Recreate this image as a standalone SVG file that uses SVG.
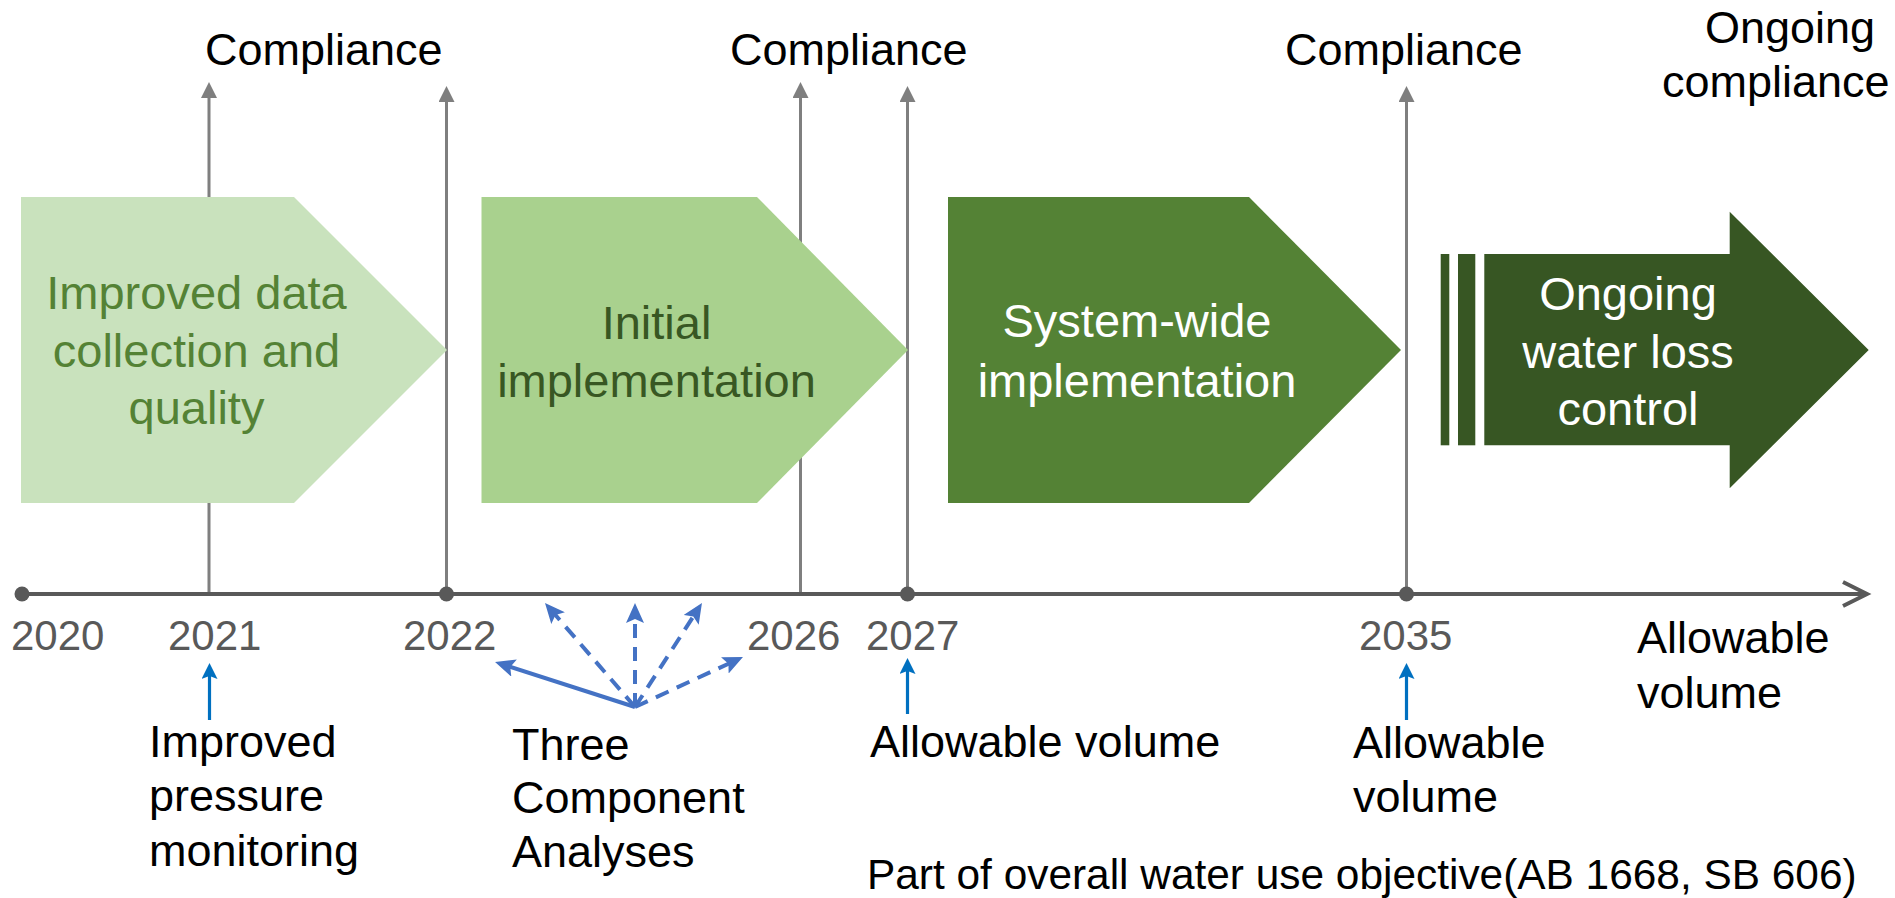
<svg xmlns="http://www.w3.org/2000/svg" width="1895" height="898" viewBox="0 0 1895 898">
<style>
text{font-family:"Liberation Sans",Arial,sans-serif}
.blk{font-size:45px;fill:#000}
.yr{font-size:42px;fill:#595959}
.bx{font-size:47px;text-anchor:middle}
.gl{stroke:#7F7F7F;stroke-width:3;fill:none}
.bl{stroke:#0070C0;stroke-width:3.2;fill:none}
.fan{stroke:#4472C4;stroke-width:4;fill:none}
.dash{stroke-dasharray:14 9}
</style>
<defs>
<marker id="ag" viewBox="0 0 16 16" refX="6" refY="8" markerWidth="16" markerHeight="16" markerUnits="userSpaceOnUse" orient="auto"><path d="M0,0 L16,8 L0,16 z" fill="#7F7F7F"/></marker>
<marker id="ab" viewBox="0 0 16 16" refX="6" refY="8" markerWidth="16" markerHeight="16" markerUnits="userSpaceOnUse" orient="auto"><path d="M0,0 L16,8 L0,16 L3,8 z" fill="#0070C0"/></marker>
<marker id="af" viewBox="0 0 20 18" refX="9" refY="9" markerWidth="20" markerHeight="18" markerUnits="userSpaceOnUse" orient="auto"><path d="M0,0 L20,9 L0,18 L4,9 z" fill="#4472C4"/></marker>
</defs>

<g id="connectors">
<line class="gl" x1="209" y1="594" x2="209" y2="92" marker-end="url(#ag)"/>
<line class="gl" x1="446.5" y1="594" x2="446.5" y2="96" marker-end="url(#ag)"/>
<line class="gl" x1="800.5" y1="594" x2="800.5" y2="92" marker-end="url(#ag)"/>
<line class="gl" x1="907.5" y1="594" x2="907.5" y2="96" marker-end="url(#ag)"/>
<line class="gl" x1="1406.5" y1="594" x2="1406.5" y2="96" marker-end="url(#ag)"/>
<line class="bl" x1="209.5" y1="720" x2="209.5" y2="673" marker-end="url(#ab)"/>
<line class="bl" x1="907.5" y1="714" x2="907.5" y2="668" marker-end="url(#ab)"/>
<line class="bl" x1="1406.5" y1="720" x2="1406.5" y2="673" marker-end="url(#ab)"/>
<line class="fan" x1="635" y1="707" x2="505.5" y2="665.4" marker-end="url(#af)"/>
<line class="fan dash" x1="635" y1="707" x2="552.2" y2="611.3" marker-end="url(#af)"/>
<line class="fan dash" x1="635" y1="707" x2="635" y2="614" marker-end="url(#af)"/>
<line class="fan dash" x1="635" y1="707" x2="696" y2="612.3" marker-end="url(#af)"/>
<line class="fan dash" x1="635" y1="707" x2="733" y2="661.6" marker-end="url(#af)"/>
</g>

<g id="axis">
<line x1="22" y1="594" x2="1865" y2="594" stroke="#595959" stroke-width="4"/>
<polyline points="1843,582 1867,594 1843,606" fill="none" stroke="#595959" stroke-width="4"/>
<circle cx="22" cy="594" r="7.5" fill="#595959"/>
<circle cx="446.5" cy="594" r="7.5" fill="#595959"/>
<circle cx="907.5" cy="594" r="7.5" fill="#595959"/>
<circle cx="1406.5" cy="594" r="7.5" fill="#595959"/>
</g>

<g id="phase1">
<polygon points="21,197 294,197 447,350 294,503 21,503" fill="#C9E2BD"/>
<text class="bx" fill="#548235"><tspan x="196.5" y="309">Improved data</tspan><tspan x="196.5" y="367">collection and</tspan><tspan x="196.5" y="424">quality</tspan></text>
</g>
<g id="phase2">
<polygon points="481.5,197 757,197 908,350 757,503 481.5,503" fill="#A9D18E"/>
<text class="bx" fill="#385723"><tspan x="656.5" y="339">Initial</tspan><tspan x="656.5" y="397">implementation</tspan></text>
</g>
<g id="phase3">
<polygon points="948,197 1249,197 1401,350 1249,503 948,503" fill="#548235"/>
<text class="bx" fill="#FFFFFF"><tspan x="1137" y="337">System-wide</tspan><tspan x="1137" y="397">implementation</tspan></text>
</g>
<g id="phase4">
<rect x="1440.7" y="254" width="8.6" height="191.3" fill="#375623"/>
<rect x="1458" y="254" width="17.3" height="191.3" fill="#375623"/>
<polygon points="1484.3,254 1729.7,254 1729.7,211.7 1868.7,350 1729.7,488.3 1729.7,445.3 1484.3,445.3" fill="#375623"/>
<text class="bx" fill="#FFFFFF"><tspan x="1628" y="310">Ongoing</tspan><tspan x="1628" y="368">water loss</tspan><tspan x="1628" y="425">control</tspan></text>
</g>

<g id="compliance-labels">
<text class="blk" x="205" y="65">Compliance</text>
<text class="blk" x="730" y="65">Compliance</text>
<text class="blk" x="1285" y="65">Compliance</text>
<text class="blk"><tspan x="1705" y="43">Ongoing</tspan><tspan x="1662" y="97">compliance</tspan></text>
</g>

<g id="years">
<text class="yr" x="11" y="650">2020</text>
<text class="yr" x="168" y="650">2021</text>
<text class="yr" x="403" y="650">2022</text>
<text class="yr" x="747" y="650">2026</text>
<text class="yr" x="866" y="650">2027</text>
<text class="yr" x="1359" y="650">2035</text>
</g>

<g id="milestone-notes">
<text class="blk"><tspan x="149" y="757">Improved</tspan><tspan x="149" y="811">pressure</tspan><tspan x="149" y="866">monitoring</tspan></text>
<text class="blk"><tspan x="512" y="760">Three</tspan><tspan x="512" y="813">Component</tspan><tspan x="512" y="867">Analyses</tspan></text>
<text class="blk" x="870" y="757">Allowable volume</text>
<text class="blk"><tspan x="1353" y="758">Allowable</tspan><tspan x="1353" y="812">volume</tspan></text>
<text class="blk"><tspan x="1637" y="653">Allowable</tspan><tspan x="1637" y="708">volume</tspan></text>
<text class="blk" x="867" y="889" style="font-size:42.4px">Part of overall water use objective(AB 1668, SB 606)</text>
</g>
</svg>
